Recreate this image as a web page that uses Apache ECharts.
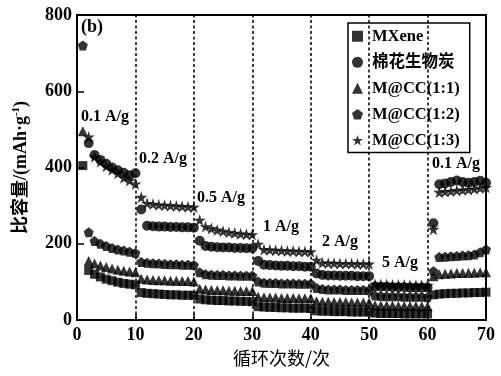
<!DOCTYPE html>
<html><head><meta charset="utf-8">
<script src="https://cdn.jsdelivr.net/npm/echarts@6/dist/echarts.min.js"></script>
<style>html,body{margin:0;padding:0;background:#fff}#c{width:501px;height:376px}</style>
</head><body><div id="c"></div>
<script>
const cycles = [1,2,3,4,5,6,7,8,9,10,11,12,13,14,15,16,17,18,19,20,21,22,23,24,25,26,27,28,29,30,31,32,33,34,35,36,37,38,39,40,41,42,43,44,45,46,47,48,49,50,51,52,53,54,55,56,57,58,59,60,61,62,63,64,65,66,67,68,69,70];
const seriesNames = ['MXene','棉花生物炭','M@CC(1:1)','M@CC(1:2)','M@CC(1:3)'];
const mxene = [405,130,120,113,107,103,99,96,94,92, 72,70,69,68,67,66,66,65,65,64, 55,53,52,51,51,50,50,49,49,48, 35,34,33,33,32,32,31,31,31,30, 24,23,23,22,22,22,21,21,21,21, 18,17,17,17,17,16,16,16,16,16, 66,68,69,70,70,71,71,72,72,73];
const biochar = [null,464,433,420,410,400,393,386,380,385, 290,247,246,245,245,244,244,243,243,242, 208,194,192,191,190,190,189,189,188,188, 155,145,144,143,142,142,141,141,140,140, 122,118,117,117,116,116,116,115,115,115, 88,87,87,86,86,86,85,85,85,85, 254,356,358,362,366,362,360,362,365,360];
const mcc11 = [495,155,148,143,139,135,132,129,127,125, 108,106,105,104,104,103,103,102,102,101, 82,80,79,78,78,77,77,76,76,76, 61,60,59,59,58,58,58,57,57,57, 49,48,48,47,47,47,46,46,46,46, 39,38,38,38,37,37,37,37,36,36, 115,120,121,122,123,123,124,124,125,125];
const mcc12 = [720,230,207,200,194,189,185,182,179,176, 152,150,149,148,147,146,146,145,145,144, 125,120,119,118,118,117,117,116,116,116, 101,98,97,97,96,96,96,95,95,95, 84,81,80,80,80,79,79,79,79,78, 64,63,62,62,62,61,61,61,61,60, 128,165,166,167,168,169,170,172,178,185];
const mcc13 = [null,480,428,415,403,394,385,373,366,357, 322,306,304,302,301,300,299,298,297,296, 262,245,240,236,233,230,228,226,225,224, 199,185,184,183,182,181,181,180,180,179, 157,150,149,149,148,148,148,147,147,147, 94,93,93,92,92,92,91,91,91,91, 238,335,337,338,340,341,342,344,346,348];
const rateBoundaries = [10,20,30,40,50,60];
const rateLabels = ['0.1 A/g','0.2 A/g','0.5 A/g','1 A/g','2 A/g','5 A/g','0.1 A/g'];
const xTicks = [0,10,20,30,40,50,60,70];
const yTicks = [0,200,400,600,800];

const SERIF = '"Liberation Serif","Times New Roman","Noto Sans CJK SC",serif';
const PENT = 'path://M50,0 L97.55,34.55 L79.39,90.45 L20.61,90.45 L2.45,34.55 Z';
const STAR = 'path://M50,0 L61.23,34.55 L97.55,34.55 L68.16,55.9 L79.39,90.45 L50,69.1 L20.61,90.45 L31.84,55.9 L2.45,34.55 L38.77,34.55 Z';
const values = [mxene, biochar, mcc11, mcc12, mcc13];
const symbols = ['rect','circle','triangle',PENT,STAR];
const sizes = [9,10,10,10,12];
const zs = [2,6,3,4,5];

const chart = echarts.init(document.getElementById('c'), null, {renderer:'canvas'});
const series = values.map((vals,k)=>({
  name: seriesNames[k], type:'scatter', symbol: symbols[k], symbolSize: sizes[k], z: zs[k],
  itemStyle:{color:'#000'},
  data: cycles.map((c,i)=>[c, vals[i]]).filter(d=>d[1]!==null),
  animation:false
}));
series[0].markLine = {
  silent:true, symbol:['none','none'], label:{show:false}, animation:false,
  lineStyle:{color:'#000', type:[3,2.5], width:1.5},
  data: rateBoundaries.map(b=>({xAxis:b}))
};
const labelPos = [[81,109],[139,151],[197,190],[263,219],[322,234],[382,255],[432,156]];
const graphic = [{type:'text', left:81, top:18, style:{text:'(b)', font:'bold 18px '+SERIF, fill:'#000'}}]
  .concat(rateLabels.map((t,i)=>({type:'text', left:labelPos[i][0], top:labelPos[i][1], z:10,
     style:{text:t, font:'bold 16px '+SERIF, fill:'#000'}})));

chart.setOption({
  backgroundColor:'#fff',
  animation:false,
  grid:{left:77, right:15, top:15, bottom:56, show:true, borderColor:'#000', borderWidth:2, backgroundColor:'transparent'},
  xAxis:{type:'value', min:0, max:70, interval:10,
    name:'循环次数/次', nameLocation:'middle', nameGap:27,
    nameTextStyle:{fontFamily:'"Noto Sans CJK SC"', fontSize:18, color:'#000'},
    axisLine:{lineStyle:{color:'#000', width:2}},
    axisTick:{inside:true, length:6, lineStyle:{color:'#000', width:1.5}},
    axisLabel:{fontFamily:SERIF, fontWeight:'bold', fontSize:18, color:'#000', margin:6,
      formatter: v => xTicks.includes(v) ? String(v) : ''},
    splitLine:{show:false}},
  yAxis:{type:'value', min:0, max:800, interval:200,
    name:'{a|比容量/(mAh·g}{s|-1}{a|)}', nameLocation:'middle', nameGap:46,
    nameTextStyle:{rich:{
      a:{fontFamily:SERIF, fontWeight:'bold', fontSize:18, color:'#000', verticalAlign:'middle', lineHeight:20},
      s:{fontFamily:SERIF, fontWeight:'bold', fontSize:11, color:'#000', verticalAlign:'top', lineHeight:20}}},
    axisLine:{lineStyle:{color:'#000', width:2}},
    axisTick:{inside:true, length:7, lineStyle:{color:'#000', width:1.5}},
    axisLabel:{fontFamily:SERIF, fontWeight:'bold', fontSize:18, color:'#000', margin:5,
      formatter: v => yTicks.includes(v) ? String(v) : ''},
    splitLine:{show:false}},
  legend:{orient:'vertical', left:348, top:23, data:seriesNames,
    itemWidth:11, itemHeight:11, itemGap:9.5, padding:[5,10,4,4],
    borderColor:'#000', borderWidth:1.5, backgroundColor:'#fff',
    textStyle:{fontFamily:SERIF, fontWeight:'bold', fontSize:16.5, color:'#000', padding:[0,0,0,4]}},
  graphic: graphic,
  series: series
});
</script></body></html>
